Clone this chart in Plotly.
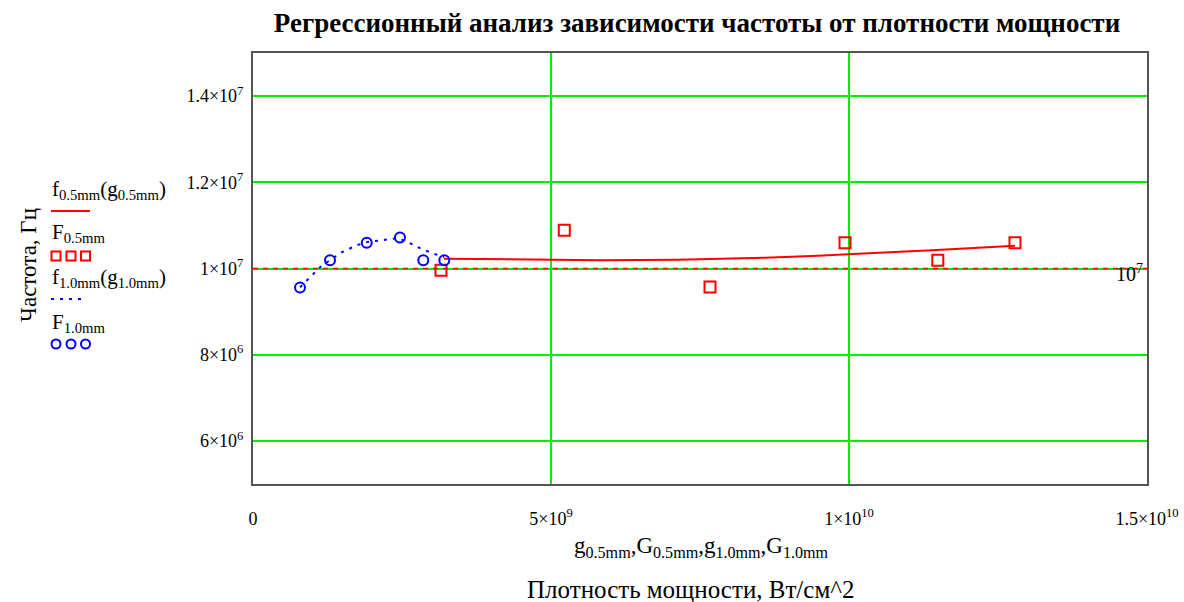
import plotly.graph_objects as go

# ---------------- data ----------------
# F0.5mm measured points (power density, frequency)
G05 = [3.154e9, 5.223e9, 7.668e9, 9.933e9, 1.149e10, 1.2785e10]
F05 = [9.96e6, 1.089e7, 9.57e6, 1.060e7, 1.019e7, 1.060e7]

# f0.5mm(g0.5mm) regression curve
g05 = [3.205e9, 4.547e9, 5.822e9, 7.131e9, 8.591e9, 9.480e9, 1.0218e10,
       1.0856e10, 1.1393e10, 1.1913e10, 1.2366e10, 1.2785e10]
f05 = [1.0228e7, 1.0205e7, 1.0193e7, 1.0205e7, 1.0251e7, 1.0298e7, 1.0356e7,
       1.0391e7, 1.0426e7, 1.0460e7, 1.0495e7, 1.0530e7]

# F1.0mm measured points
G10 = [7.89e8, 1.292e9, 1.908e9, 2.466e9, 2.857e9, 3.21e9]
F10 = [9.56e6, 1.019e7, 1.060e7, 1.072e7, 1.019e7, 1.019e7]

# f1.0mm(g1.0mm) regression curve
g10 = [7.89e8, 9.90e8, 1.124e9, 1.292e9, 1.493e9, 1.745e9, 1.913e9,
       2.164e9, 2.433e9, 2.634e9, 2.802e9, 3.003e9, 3.205e9]
f10 = [9.565e6, 9.844e6, 1.0030e7, 1.0193e7, 1.0379e7, 1.0542e7, 1.0612e7,
       1.0658e7, 1.0705e7, 1.0588e7, 1.0472e7, 1.0356e7, 1.0263e7]

marker_y = 1e7

x_tickvals = [0, 5e9, 1e10, 1.5e10]
x_ticktext = ["0", "5×10<sup>9</sup>", "1×10<sup>10</sup>", "1.5×10<sup>10</sup>"]
y_tickvals = [6e6, 8e6, 1e7, 1.2e7, 1.4e7]
y_ticktext = ["6×10<sup>6</sup>", "8×10<sup>6</sup>", "1×10<sup>7</sup>",
              "1.2×10<sup>7</sup>", "1.4×10<sup>7</sup>"]

# ---------------- figure ----------------
SERIF = "Liberation Serif, Times New Roman, serif"
RED = "#ff0000"
BLUE = "#0000ff"
GREEN = "#00ee00"

fig = go.Figure()

fig.add_trace(go.Scatter(x=g05, y=f05, mode="lines",
                         line=dict(color=RED, width=2), showlegend=False))
fig.add_trace(go.Scatter(x=G05, y=F05, mode="markers",
                         marker=dict(symbol="square-open", size=11, color=RED,
                                     line=dict(width=2, color=RED)),
                         showlegend=False))
fig.add_trace(go.Scatter(x=g10, y=f10, mode="lines",
                         line=dict(color=BLUE, width=2, dash="3px,6px"),
                         showlegend=False))
fig.add_trace(go.Scatter(x=G10, y=F10, mode="markers",
                         marker=dict(symbol="circle-open", size=10, color=BLUE,
                                     line=dict(width=2, color=BLUE)),
                         showlegend=False))

# Marker line at 1e7
fig.add_shape(type="line", xref="x domain", yref="y", x0=0, x1=1,
              y0=marker_y, y1=marker_y, line=dict(color=RED, width=1.5, dash="5px,5px"),
              layer="above")
fig.add_annotation(xref="paper", yref="y", x=0.998, y=marker_y, xanchor="right",
                   yanchor="middle", yshift=-4, showarrow=False,
                   text="10<sup>7</sup>", font=dict(family=SERIF, size=20, color="black"))

# plot geometry (pixels) for legend placement
FW, FH = 1184, 602
L, T, W, H = 253, 53, 894, 431


def px(xp):
    return (xp - L) / W


def py(yp):
    return (T + H - yp) / H


# Legend texts
leg_font = dict(family=SERIF, size=21, color="black")
legend_texts = [
    ("f<sub>0.5mm</sub>(g<sub>0.5mm</sub>)", 190),
    ("F<sub>0.5mm</sub>", 233),
    ("f<sub>1.0mm</sub>(g<sub>1.0mm</sub>)", 278),
    ("F<sub>1.0mm</sub>", 323),
]
for txt, yy in legend_texts:
    fig.add_annotation(xref="paper", yref="paper", x=px(50), y=py(yy),
                       xanchor="left", yanchor="middle", showarrow=False,
                       text=txt, font=leg_font)

# Legend symbols
fig.add_shape(type="line", xref="paper", yref="paper", x0=px(51), x1=px(90),
              y0=py(211), y1=py(211), line=dict(color=RED, width=2))
fig.add_shape(type="line", xref="paper", yref="paper", x0=px(51), x1=px(85),
              y0=py(299), y1=py(299), line=dict(color=BLUE, width=2, dash="3px,6px"))
for cx in [56, 71, 85.5]:
    fig.add_shape(type="rect", xref="paper", yref="paper",
                  x0=px(cx - 4.5), x1=px(cx + 4.5), y0=py(256 + 4.5), y1=py(256 - 4.5),
                  line=dict(color=RED, width=2))
    fig.add_shape(type="circle", xref="paper", yref="paper",
                  x0=px(cx - 4.5), x1=px(cx + 4.5), y0=py(344 + 4.5), y1=py(344 - 4.5),
                  line=dict(color=BLUE, width=2))

# Axis titles
fig.add_annotation(xref="paper", yref="paper", x=px(701), y=py(547),
                   xanchor="center", yanchor="middle", showarrow=False,
                   text="g<sub>0.5mm</sub>,G<sub>0.5mm</sub>,g<sub>1.0mm</sub>,G<sub>1.0mm</sub>",
                   font=dict(family=SERIF, size=23, color="black"))
fig.add_annotation(xref="paper", yref="paper", x=px(690), y=py(589),
                   xanchor="center", yanchor="middle", showarrow=False,
                   text="Плотность мощности, Вт/см^2",
                   font=dict(family=SERIF, size=25, color="black"))
fig.add_annotation(xref="paper", yref="paper", x=px(28), y=py(265),
                   xanchor="center", yanchor="middle", showarrow=False, textangle=-90,
                   text="Частота, Гц",
                   font=dict(family=SERIF, size=23, color="black"))

fig.update_layout(
    width=FW, height=FH,
    margin=dict(l=L, r=FW - L - W, t=T, b=FH - T - H, autoexpand=False),
    paper_bgcolor="white", plot_bgcolor="white",
    title=dict(text="<b>Регрессионный анализ зависимости частоты от плотности мощности</b>",
               xref="container", x=697 / FW, xanchor="center",
               yref="container", y=1 - 23 / FH, yanchor="middle",
               font=dict(family=SERIF, size=27, color="black")),
    xaxis=dict(range=[0, 1.5e10], tickvals=x_tickvals, ticktext=x_ticktext,
               showgrid=True, gridcolor=GREEN, gridwidth=2, zeroline=False,
               showline=True, linecolor="#555555", linewidth=2, mirror=True,
               ticks="outside", ticklen=17, tickcolor="rgba(0,0,0,0)",
               tickfont=dict(family=SERIF, size=18, color="black")),
    yaxis=dict(range=[5e6, 1.5e7], tickvals=y_tickvals, ticktext=y_ticktext,
               showgrid=True, gridcolor=GREEN, gridwidth=2, zeroline=False,
               showline=True, linecolor="#555555", linewidth=2, mirror=True,
               ticks="outside", ticklen=4, tickcolor="rgba(0,0,0,0)",
               tickfont=dict(family=SERIF, size=18, color="black")),
)

fig.write_html("out.html", config={"displayModeBar": False},
               post_script="document.body.style.margin='0px';document.body.style.padding='0px';")
